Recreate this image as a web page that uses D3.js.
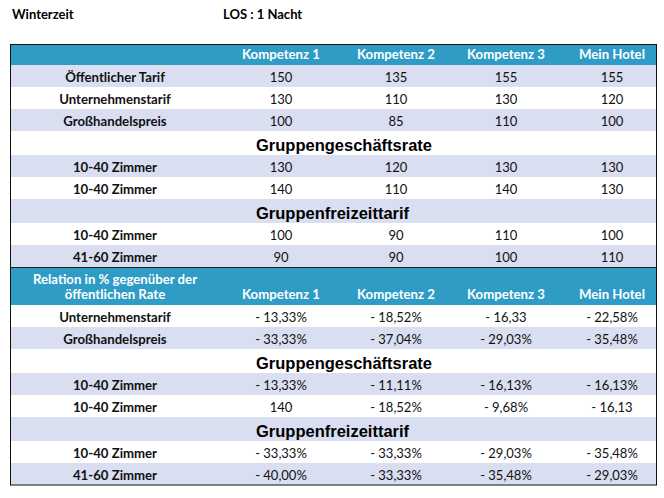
<!DOCTYPE html>
<html><head><meta charset="utf-8">
<script src="https://cdn.jsdelivr.net/npm/d3@7/dist/d3.min.js"></script>
<style>
html,body{margin:0;padding:0;background:#fff;}
svg{display:block;}
</style></head>
<body>
<svg id="chart" width="664" height="498"></svg>
<script>
// ---- data ----
const titleLeft = "Winterzeit";
const titleRight = "LOS : 1 Nacht";
const columns = ["Kompetenz 1", "Kompetenz 2", "Kompetenz 3", "Mein Hotel"];

const rateLabels = ["Öffentlicher Tarif", "Unternehmenstarif", "Großhandelspreis"];
const rateValues = [[150, 135, 155, 155], [130, 110, 130, 120], [100, 85, 110, 100]];
const businessTitle = "Gruppengeschäftsrate";
const businessLabels = ["10-40 Zimmer", "10-40 Zimmer"];
const businessValues = [[130, 120, 130, 130], [140, 110, 140, 130]];
const leisureTitle = "Gruppenfreizeittarif";
const leisureLabels = ["10-40 Zimmer", "41-60 Zimmer"];
const leisureValues = [[100, 90, 110, 100], [90, 90, 100, 110]];

const relHeader = ["Relation in % gegenüber der", "öffentlichen Rate"];
const relRateLabels = ["Unternehmenstarif", "Großhandelspreis"];
const relRateValues = [["- 13,33%", "- 18,52%", "- 16,33", "- 22,58%"], ["- 33,33%", "- 37,04%", "- 29,03%", "- 35,48%"]];
const relBusinessLabels = ["10-40 Zimmer", "10-40 Zimmer"];
const relBusinessValues = [["- 13,33%", "- 11,11%", "- 16,13%", "- 16,13%"], ["140", "- 18,52%", "- 9,68%", "- 16,13"]];
const relLeisureLabels = ["10-40 Zimmer", "41-60 Zimmer"];
const relLeisureValues = [["- 33,33%", "- 33,33%", "- 29,03%", "- 35,48%"], ["- 40,00%", "- 33,33%", "- 35,48%", "- 29,03%"]];

// ---- layout ----
const BLUE = "#2e9cc5", LAV = "#d9def0", WHITE = "#ffffff";
const FONT = "Lato, 'Open Sans', sans-serif";
const left = 10.5, right = 656.5;
const xCol = d3.scaleOrdinal().domain(columns).range([281, 396, 506, 612]);
const xLabel = 115;
const xSection = 256;
const FS = 13.2;

// build row list
const rows = [];
rows.push({type: "header", lines: [], h: 21});
function dataRows(labels, values) { labels.forEach((l, i) => rows.push({type: "data", label: l, values: values[i], h: 22})); }
dataRows(rateLabels, rateValues);
rows.push({type: "section", label: businessTitle, h: 24});
dataRows(businessLabels, businessValues);
rows.push({type: "section", label: leisureTitle, h: 24});
dataRows(leisureLabels, leisureValues);
rows.push({type: "header", lines: relHeader, h: 38, rule: true});
dataRows(relRateLabels, relRateValues);
rows.push({type: "section", label: businessTitle, h: 24});
dataRows(relBusinessLabels, relBusinessValues);
rows.push({type: "section", label: leisureTitle, h: 24});
dataRows(relLeisureLabels, relLeisureValues);

// assign y and fills
let y = 44;
let stripe = 0;
rows.forEach(r => {
  r.y = y; y += r.h;
  if (r.type === "header") { r.fill = BLUE; stripe = r.rule ? 0 : 1; }
  else { r.fill = stripe % 2 === 1 ? LAV : WHITE; stripe++; }
});
const bottom = y;

const svg = d3.select("#chart");

svg.append("text").attr("x", 12).attr("y", 19).text(titleLeft)
  .attr("font-family", FONT).attr("font-weight", "bold").attr("font-size", 13).attr("fill", "#000");
svg.append("text").attr("x", 223).attr("y", 19).text(titleRight)
  .attr("font-family", FONT).attr("font-weight", "bold").attr("font-size", 13).attr("fill", "#000");

const g = svg.append("g");
const rg = g.selectAll("g.row").data(rows).join("g").attr("class", "row")
  .attr("transform", d => `translate(0,${d.y})`);

rg.append("rect").attr("x", left).attr("y", 0).attr("width", right - left).attr("height", d => d.h)
  .attr("fill", d => d.fill);

// headers
const hdr = rg.filter(d => d.type === "header");
hdr.selectAll("text.col").data(() => columns).join("text").attr("class", "col")
  .attr("x", c => xCol(c)).attr("y", function() { return d3.select(this.parentNode).datum().h - 6; })
  .attr("text-anchor", "middle").attr("font-family", FONT).attr("font-weight", "bold")
  .attr("font-size", FS).attr("fill", "#fff").text(c => c);
hdr.selectAll("text.hl").data(d => d.lines.map((t, i) => ({t, i, n: d.lines.length, h: d.h}))).join("text").attr("class", "hl")
  .attr("x", xLabel).attr("y", d => d.h - 6 - (d.n - 1 - d.i) * 15)
  .attr("text-anchor", "middle").attr("font-family", FONT).attr("font-weight", "bold")
  .attr("font-size", FS).attr("fill", "#fff").text(d => d.t);

// data rows
const dr = rg.filter(d => d.type === "data");
dr.append("text").attr("x", xLabel).attr("y", 16.5).attr("text-anchor", "middle")
  .attr("font-family", FONT).attr("font-weight", "bold").attr("font-size", FS).attr("fill", "#111")
  .text(d => d.label);
dr.selectAll("text.v").data(d => d.values.map((v, i) => ({v, c: columns[i]}))).join("text").attr("class", "v")
  .attr("x", d => xCol(d.c)).attr("y", 16.5).attr("text-anchor", "middle")
  .attr("font-family", FONT).attr("font-size", 13).attr("fill", "#111").text(d => d.v);

// section rows
const sr = rg.filter(d => d.type === "section");
sr.append("text").attr("x", xSection).attr("y", 19.5)
  .attr("font-family", "'Liberation Sans', Arial, sans-serif").attr("font-weight", "bold")
  .attr("font-size", 16.5).attr("fill", "#000").text(d => d.label);

// rule above second header
rows.filter(r => r.rule).forEach(r => {
  svg.append("line").attr("x1", left).attr("x2", right).attr("y1", r.y + 0.5).attr("y2", r.y + 0.5)
    .attr("stroke", "#222").attr("stroke-width", 1);
});

// outer border
svg.append("rect").attr("x", left).attr("y", 44.5).attr("width", right - left).attr("height", bottom - 44.5)
  .attr("fill", "none").attr("stroke", "#111").attr("stroke-width", 1);
</script>
</body></html>
